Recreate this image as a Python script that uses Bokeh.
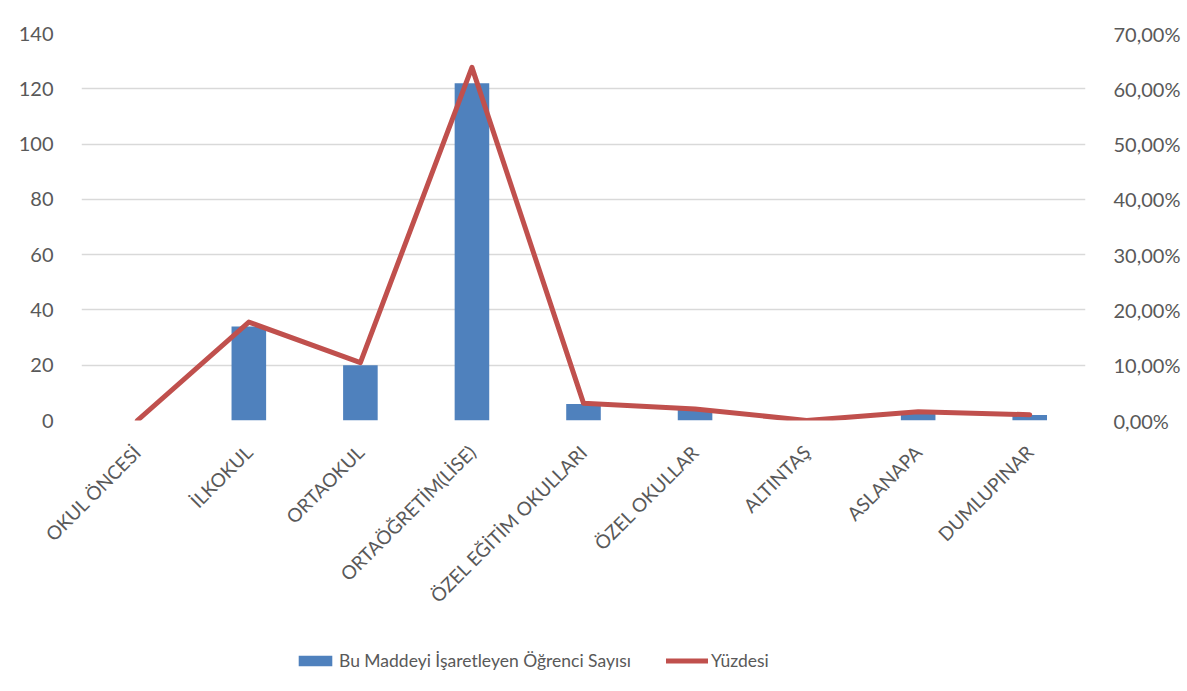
from bokeh.plotting import figure
from bokeh.layouts import column
from bokeh.models import (FactorRange, Range1d, LinearAxis, Legend, LegendItem,
                          CustomJSTickFormatter, FixedTicker, ColumnDataSource)
from bokeh.embed import file_html
from bokeh.resources import INLINE
import math

categories = ["OKUL ÖNCESİ", "İLKOKUL", "ORTAOKUL", "ORTAÖĞRETİM(LİSE)",
              "ÖZEL EĞİTİM OKULLARI", "ÖZEL OKULLAR", "ALTINTAŞ", "ASLANAPA", "DUMLUPINAR"]
counts = [0, 34, 20, 122, 6, 4, 0, 3, 2]
percents = [0.0, 0.178, 0.1047, 0.6387, 0.0314, 0.0209, 0.0, 0.0157, 0.0105]

bar_name = "Bu Maddeyi İşaretleyen Öğrenci Sayısı"
line_name = "Yüzdesi"

FONT = "Lato"
TXT = "#595959"
GRID = "#D9D9D9"
BLUE = "#4F81BD"
RED = "#C0504D"

src = ColumnDataSource(dict(cat=categories, cnt=counts, pct=percents))

p = figure(x_range=FactorRange(*categories), y_range=Range1d(0, 140),
           width=1187, height=620, output_backend="svg", toolbar_location=None,
           min_border_left=81, min_border_right=102, min_border_top=33, min_border_bottom=200)
p.extra_y_ranges = {"pct": Range1d(0, 0.7)}
p.x_range.range_padding = 0
p.outline_line_color = None
p.background_fill_color = "white"
p.border_fill_color = "white"

bars = p.vbar(x="cat", top="cnt", width=0.31, source=src, fill_color=BLUE, line_color=None)
ln = p.line(x="cat", y="pct", source=src, y_range_name="pct", line_color=RED,
            line_width=5, line_cap="round", line_join="round")

p.yaxis.ticker = FixedTicker(ticks=[0, 20, 40, 60, 80, 100, 120, 140])
right = LinearAxis(y_range_name="pct",
                   ticker=FixedTicker(ticks=[0, 0.1, 0.2, 0.3, 0.4, 0.5, 0.6, 0.7]),
                   formatter=CustomJSTickFormatter(code="return (tick*100).toFixed(2).replace('.', ',') + '%';"))
p.add_layout(right, "right")

for ax in [p.yaxis[0], right, p.xaxis[0]]:
    ax.axis_line_color = None
    ax.major_tick_line_color = None
    ax.minor_tick_line_color = None
    ax.major_label_text_font = FONT
    ax.major_label_text_font_size = "20px"
    ax.major_label_text_color = TXT
p.yaxis[0].major_label_standoff = 22
right.major_label_standoff = 22
p.xaxis[0].major_label_orientation = math.pi / 4
p.xaxis[0].major_label_standoff = 22
p.xaxis[0].major_label_text_font_size = "19px"

p.xgrid.grid_line_color = None
p.ygrid.grid_line_color = GRID
p.ygrid.grid_line_width = 1.5

# legend strip below the chart (its renderers use the same data, kept out of view)
lf = figure(width=1187, height=71, output_backend="svg", toolbar_location=None,
            x_range=FactorRange(*categories), y_range=Range1d(1000, 1001), min_border=0,
            x_axis_location=None, y_axis_location=None)
lf.grid.visible = False
lf.outline_line_color = None
lb = lf.vbar(x="cat", top="cnt", width=0.31, source=src, fill_color=BLUE, line_color=None)
ll = lf.line(x="cat", y="pct", source=src, line_color=RED, line_width=5, line_cap="round")
legend = Legend(items=[LegendItem(label=bar_name, renderers=[lb]),
                       LegendItem(label=line_name, renderers=[ll])],
                orientation="horizontal", location=(213, 20),
                label_text_font=FONT, label_text_font_size="17.5px", label_text_color=TXT,
                glyph_width=42, glyph_height=13, label_standoff=3, spacing=35,
                border_line_color=None, background_fill_alpha=0, margin=0, padding=5)
lf.add_layout(legend, "center")

open("out.html", "w").write(file_html(column(p, lf, spacing=0), INLINE))
